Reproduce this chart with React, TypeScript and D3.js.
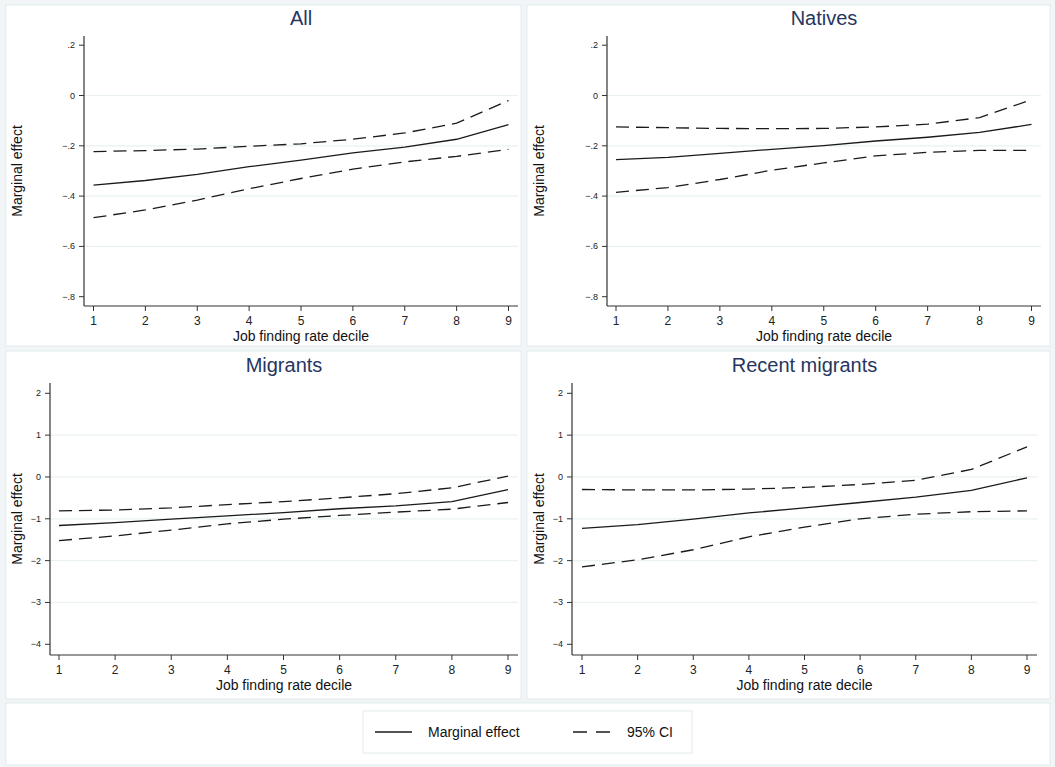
import * as d3 from "d3";

const deciles = [1, 2, 3, 4, 5, 6, 7, 8, 9];

// All
const allEffect = [-0.356, -0.338, -0.314, -0.283, -0.257, -0.228, -0.205, -0.174, -0.116];
const allUpper = [-0.223, -0.219, -0.213, -0.202, -0.192, -0.174, -0.149, -0.11, -0.02];
const allLower = [-0.486, -0.455, -0.416, -0.371, -0.33, -0.293, -0.264, -0.242, -0.214];

// Natives
const natEffect = [-0.255, -0.246, -0.23, -0.214, -0.199, -0.181, -0.166, -0.147, -0.115];
const natUpper = [-0.125, -0.128, -0.131, -0.132, -0.131, -0.125, -0.114, -0.088, -0.017];
const natLower = [-0.385, -0.366, -0.334, -0.297, -0.268, -0.24, -0.226, -0.218, -0.218];

// Migrants
const migEffect = [-1.16, -1.09, -1.01, -0.93, -0.85, -0.76, -0.69, -0.59, -0.3];
const migUpper = [-0.81, -0.79, -0.74, -0.66, -0.59, -0.5, -0.4, -0.26, 0.02];
const migLower = [-1.52, -1.41, -1.27, -1.12, -1.01, -0.92, -0.84, -0.77, -0.61];

// Recent migrants
const recEffect = [-1.23, -1.14, -1.01, -0.86, -0.74, -0.61, -0.48, -0.32, -0.02];
const recUpper = [-0.3, -0.31, -0.31, -0.29, -0.25, -0.18, -0.08, 0.18, 0.72];
const recLower = [-2.15, -1.98, -1.74, -1.43, -1.2, -1.0, -0.89, -0.83, -0.81];

const topTicks = [0.2, 0, -0.2, -0.4, -0.6, -0.8];
const bottomTicks = [2, 1, 0, -1, -2, -3, -4];

const font = "'Liberation Sans', Arial, Helvetica, sans-serif";
const navy = "#26365f";
const grid = "#eaf1f3";

function fmtTop(v: number) {
  if (v === 0) return "0";
  const s = Math.abs(v).toFixed(1).replace(/^0/, "");
  return (v < 0 ? "\u2212" : "") + s;
}
function fmtBottom(v: number) {
  return (v < 0 ? "\u2212" : "") + Math.abs(v);
}

type PanelProps = {
  title: string;
  effect: number[];
  upper: number[];
  lower: number[];
  ticks: number[];
  fmt: (v: number) => string;
  axisX: number;
  x1: number;
  x9: number;
  axisRight: number;
  axisTop: number;
  axisBottom: number;
  yTopTick: number;
  yBottomTick: number;
  labelX: number;
};

function Panel(p: PanelProps) {
  const x = d3.scaleLinear().domain([1, 9]).range([p.x1, p.x9]);
  const y = d3
    .scaleLinear()
    .domain([p.ticks[p.ticks.length - 1], p.ticks[0]])
    .range([p.yBottomTick, p.yTopTick]);
  const line = d3
    .line<number>()
    .x((_, i) => x(deciles[i]))
    .y((d) => y(d));
  const midX = (p.axisX + p.axisRight) / 2;
  const midY = (p.axisTop + p.axisBottom) / 2;
  return (
    <g fontFamily={font}>
      <text x={midX} y={p.axisTop - 11} textAnchor="middle" fontSize={20} fill={navy}>
        {p.title}
      </text>
      {p.ticks.slice(1, -1).map((t) => (
        <line key={t} x1={p.axisX} x2={p.axisRight} y1={y(t)} y2={y(t)} stroke={grid} strokeWidth={1.2} />
      ))}
      <path d={line(p.upper) || ""} fill="none" stroke="#1a1a1a" strokeWidth={1.3} strokeDasharray="13 7" />
      <path d={line(p.lower) || ""} fill="none" stroke="#1a1a1a" strokeWidth={1.3} strokeDasharray="13 7" />
      <path d={line(p.effect) || ""} fill="none" stroke="#1a1a1a" strokeWidth={1.3} />
      <line x1={p.axisX} x2={p.axisX} y1={p.axisTop} y2={p.axisBottom} stroke="#333" strokeWidth={1.2} />
      <line x1={p.axisX} x2={p.axisRight} y1={p.axisBottom} y2={p.axisBottom} stroke="#333" strokeWidth={1.2} />
      {p.ticks.map((t) => (
        <g key={t}>
          <line x1={p.axisX - 5} x2={p.axisX} y1={y(t)} y2={y(t)} stroke="#333" />
          <text x={p.axisX - 9} y={y(t) + 3} textAnchor="end" fontSize={9} fill="#222">
            {p.fmt(t)}
          </text>
        </g>
      ))}
      {deciles.map((d) => (
        <g key={d}>
          <line x1={x(d)} x2={x(d)} y1={p.axisBottom} y2={p.axisBottom + 5} stroke="#333" />
          <text x={x(d)} y={p.axisBottom + 19} textAnchor="middle" fontSize={12} fill="#222">
            {d}
          </text>
        </g>
      ))}
      <text x={midX} y={p.axisBottom + 35} textAnchor="middle" fontSize={14} fill="#111">
        Job finding rate decile
      </text>
      <text
        transform={`translate(${p.labelX}, ${midY}) rotate(-90)`}
        textAnchor="middle"
        fontSize={14}
        fill="#111"
      >
        Marginal effect
      </text>
    </g>
  );
}

export default function App() {
  const border = "#e2ebee";
  return (
    <svg
      width={1055}
      height={767}
      style={{ position: "absolute", left: 0, top: 0 }}
    >
      <rect x={0} y={0} width={1055} height={767} fill="#f1f5f7" />
      <rect x={6} y={5} width={515} height={341} fill="#fff" stroke={border} />
      <rect x={527} y={5} width={523} height={341} fill="#fff" stroke={border} />
      <rect x={6} y={351} width={515} height={348} fill="#fff" stroke={border} />
      <rect x={527} y={351} width={523} height={348} fill="#fff" stroke={border} />
      <rect x={6} y={703} width={1044} height={62} fill="#fff" stroke={border} />

      <Panel
        title="All"
        effect={allEffect}
        upper={allUpper}
        lower={allLower}
        ticks={topTicks}
        fmt={fmtTop}
        axisX={84}
        x1={93.5}
        x9={508.5}
        axisRight={518}
        axisTop={36}
        axisBottom={306}
        yTopTick={45.2}
        yBottomTick={296.7}
        labelX={22}
      />
      <Panel
        title="Natives"
        effect={natEffect}
        upper={natUpper}
        lower={natLower}
        ticks={topTicks}
        fmt={fmtTop}
        axisX={607}
        x1={616}
        x9={1031.5}
        axisRight={1041}
        axisTop={36}
        axisBottom={306}
        yTopTick={45.2}
        yBottomTick={296.7}
        labelX={544}
      />
      <Panel
        title="Migrants"
        effect={migEffect}
        upper={migUpper}
        lower={migLower}
        ticks={bottomTicks}
        fmt={fmtBottom}
        axisX={50}
        x1={59}
        x9={508}
        axisRight={518}
        axisTop={383}
        axisBottom={655}
        yTopTick={393.3}
        yBottomTick={644.3}
        labelX={22}
      />
      <Panel
        title="Recent migrants"
        effect={recEffect}
        upper={recUpper}
        lower={recLower}
        ticks={bottomTicks}
        fmt={fmtBottom}
        axisX={572}
        x1={582}
        x9={1027}
        axisRight={1037}
        axisTop={383}
        axisBottom={655}
        yTopTick={393.3}
        yBottomTick={644.3}
        labelX={544}
      />

      <g fontFamily={font} fontSize={14} fill="#111">
        <rect x={363} y={711} width={329} height={42} fill="#fff" stroke={border} />
        <line x1={375} x2={412} y1={732} y2={732} stroke="#1a1a1a" strokeWidth={1.6} />
        <text x={428} y={737}>Marginal effect</text>
        <line x1={573} x2={610} y1={732} y2={732} stroke="#1a1a1a" strokeWidth={1.6} strokeDasharray="14 9" />
        <text x={627} y={737}>95% CI</text>
      </g>
    </svg>
  );
}
